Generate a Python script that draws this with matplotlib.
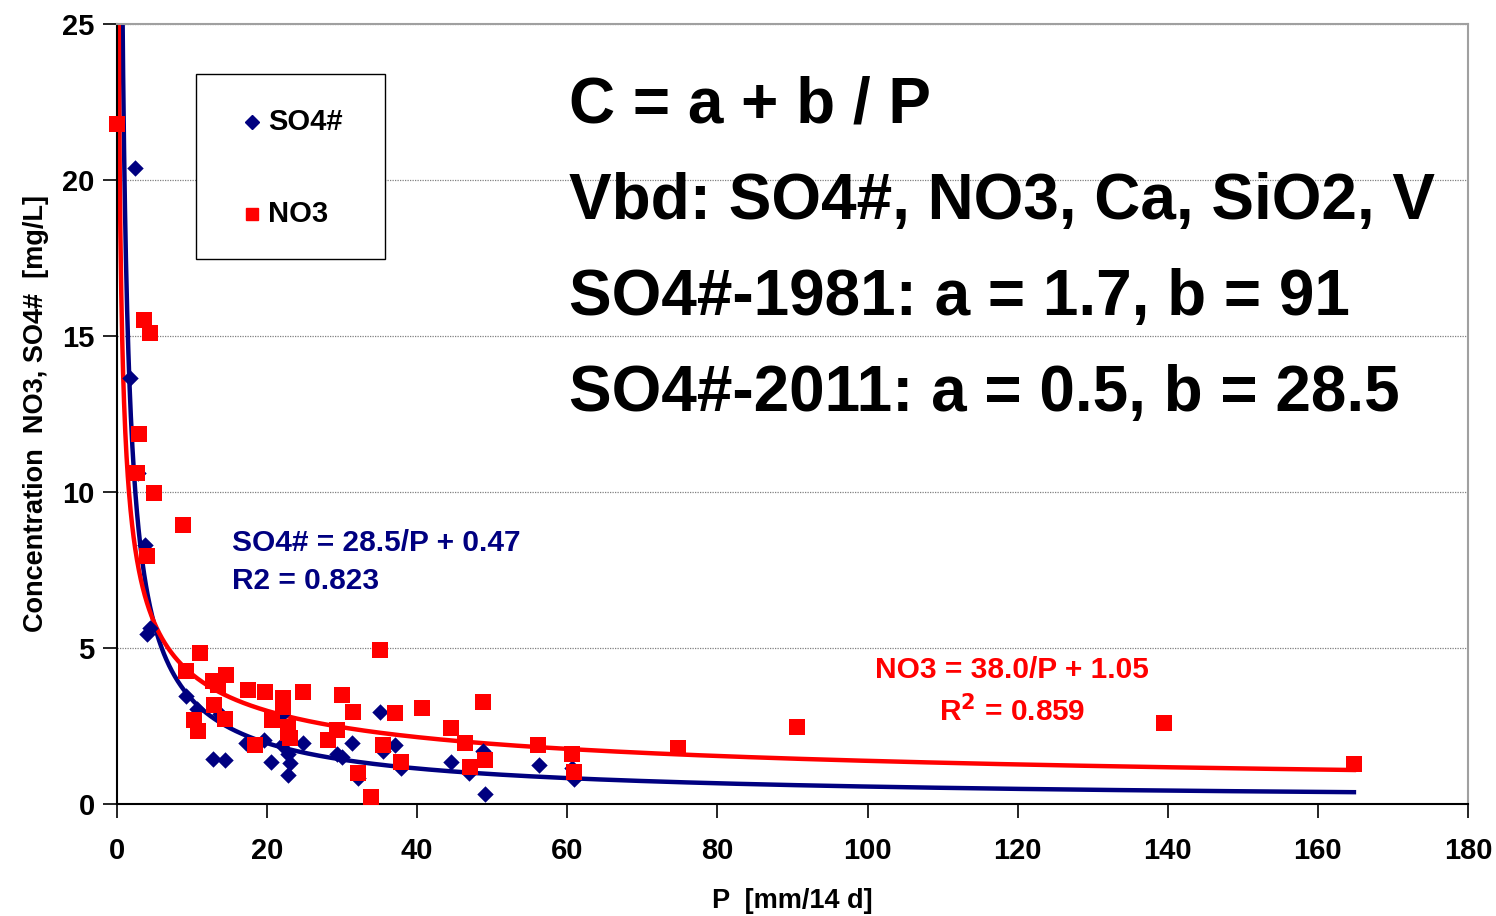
import numpy as np
import matplotlib
matplotlib.use("Agg")
import matplotlib.pyplot as plt
from matplotlib.lines import Line2D
from matplotlib.patches import Rectangle

plt.rcParams['font.family'] = ['Liberation Sans', 'DejaVu Sans']
plt.rcParams['font.weight'] = 'bold'

# SO4# observations
so4_p = [2.4, 1.7, 2.8, 3.7, 4.0, 4.4, 9.2, 10.6, 12.8, 14.4, 13.7, 17.2, 19.6, 20.5,
         22.0, 22.0, 22.8, 23.0, 22.8, 24.8, 29.3, 30.0, 31.3, 32.1, 35.0, 35.4, 37.0,
         37.8, 44.5, 46.9, 48.8, 49.0, 56.2, 60.6, 60.9]
so4_c = [20.4, 13.65, 10.6, 8.3, 5.45, 5.65, 3.45, 3.05, 1.45, 1.4, 2.9, 1.95, 2.05, 1.35,
         2.9, 1.9, 1.6, 1.3, 0.93, 1.95, 1.6, 1.5, 1.95, 0.83, 2.95, 1.7, 1.9,
         1.15, 1.35, 1.0, 1.7, 0.32, 1.25, 1.15, 0.8]

# NO3 observations
no3_p = [0.0, 3.6, 4.4, 2.9, 2.7, 4.0, 4.9, 8.8, 9.2, 11.1, 10.3, 10.8, 12.8, 13.5, 12.9,
         14.5, 14.4, 17.5, 18.4, 19.7, 20.7, 22.1, 22.1, 22.8, 22.8, 23.0, 24.8, 28.1,
         29.3, 30.0, 31.4, 32.1, 33.8, 35.0, 35.4, 37.0, 37.8, 40.6, 44.5, 46.4, 47.0,
         48.8, 49.0, 56.1, 60.6, 60.9, 74.7, 90.6, 139.5, 164.8]
no3_c = [21.8, 15.5, 15.1, 11.85, 10.6, 7.95, 9.97, 8.94, 4.26, 4.84, 2.7, 2.34, 3.94, 3.8, 3.17,
         4.13, 2.72, 3.65, 1.9, 3.6, 2.7, 3.4, 3.1, 2.47, 2.28, 2.1, 3.6, 2.05,
         2.37, 3.5, 2.95, 1.0, 0.22, 4.94, 1.9, 2.92, 1.35, 3.08, 2.44, 1.96, 1.2,
         3.27, 1.41, 1.9, 1.6, 1.03, 1.8, 2.47, 2.6, 1.28]

# drawn trend curves (power-type trendlines as they appear: C = k * P^e)
so4_k, so4_e = 20.0, -0.777
no3_k, no3_e = 12.5, -0.478
curve_pmin, curve_pmax = 0.2, 164.8

navy = '#000080'
red = '#FF0000'

W, H = 1496, 916
fig = plt.figure(figsize=(W/100, H/100), dpi=100)
ax = fig.add_axes([117/W, 1-804/H, (1468-117)/W, (804-24)/H])

pp = np.linspace(curve_pmin, curve_pmax, 4000)
ax.plot(pp, so4_k*pp**so4_e, color=navy, lw=3.2, zorder=2)
ax.plot(pp, no3_k*pp**no3_e, color=red, lw=3.2, zorder=2)

ax.scatter(so4_p, so4_c, marker='D', s=70, color=navy, zorder=3, linewidths=0, clip_on=False)
ax.scatter(no3_p, no3_c, marker='s', s=120, color=red, zorder=4, linewidths=0, clip_on=False)

ax.set_xlim(0, 180)
ax.set_ylim(0, 25)
ax.set_xticks(np.arange(0, 181, 20))
ax.set_yticks(np.arange(0, 26, 5))
ax.yaxis.grid(True, color='#808080', linestyle=(0, (1, 1)), lw=0.9)
ax.set_axisbelow(True)
for s in ['top', 'right']:
    ax.spines[s].set_color('#A0A0A0')
    ax.spines[s].set_linewidth(1.5)
for s in ['left', 'bottom']:
    ax.spines[s].set_color('black')
    ax.spines[s].set_linewidth(1.5)
ax.tick_params(axis='both', labelsize=21, length=10, width=1.2, direction='out')
ax.tick_params(axis='x', pad=14)
ax.tick_params(axis='y', pad=6)
for lab in ax.get_xticklabels() + ax.get_yticklabels():
    lab.set_fontweight('bold')

ax.set_xlabel('P  [mm/14 d]', fontsize=19.5, fontweight='bold', labelpad=16)
ax.set_ylabel('Concentration  NO3, SO4#  [mg/L]', fontsize=19.5, fontweight='bold', labelpad=10)

# legend box drawn in figure pixels
fig.add_artist(Rectangle((196/W, 1-259/H), (385-196)/W, (259-74)/H, transform=fig.transFigure,
                         facecolor='white', edgecolor='black', lw=1.0, zorder=5))
fig.add_artist(Line2D([252/W], [1-122/H], marker='D', color=navy, ls='none', markersize=7.5,
                      transform=fig.transFigure, zorder=6))
fig.add_artist(Line2D([252/W], [1-214/H], marker='s', color=red, ls='none', markersize=8.5,
                      transform=fig.transFigure, zorder=6))
fig.text(268/W, 1-122/H, 'SO4#', fontsize=21, fontweight='bold', ha='left', va='center', zorder=6)
fig.text(268/W, 1-214/H, 'NO3', fontsize=21, fontweight='bold', ha='left', va='center', zorder=6)

big = ['C = a + b / P', 'Vbd: SO4#, NO3, Ca, SiO2, V',
       'SO4#-1981: a = 1.7, b = 91', 'SO4#-2011: a = 0.5, b = 28.5']
for i, t in enumerate(big):
    fig.text(569/W, 1-(106+96*i)/H, t, fontsize=46, fontweight='bold',
             ha='left', va='center')

fig.text(232/W, 1-543/H, 'SO4# = 28.5/P + 0.47', color=navy, fontsize=21.5,
         fontweight='bold', ha='left', va='center')
fig.text(232/W, 1-581/H, 'R2 = 0.823', color=navy, fontsize=21.5,
         fontweight='bold', ha='left', va='center')
fig.text(1012/W, 1-670/H, 'NO3 = 38.0/P + 1.05', color=red, fontsize=21.5,
         fontweight='bold', ha='center', va='center')
fig.text(1012/W, 1-711/H, 'R$^\\mathbf{2}$ = 0.859', color=red, fontsize=21.5,
         fontweight='bold', ha='center', va='center')

fig.savefig('out.png', dpi=100)
